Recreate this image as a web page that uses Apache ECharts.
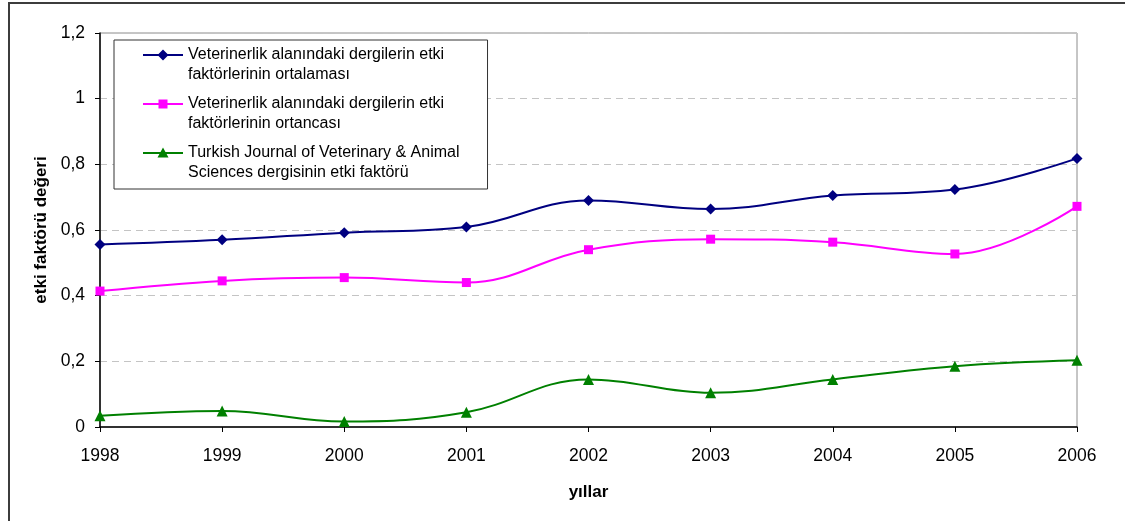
<!DOCTYPE html>
<html>
<head>
<meta charset="utf-8">
<script src="https://cdn.jsdelivr.net/npm/echarts@6/dist/echarts.min.js"></script>
<style>
  html, body { margin: 0; padding: 0; background: #ffffff; }
  #chart { width: 1125px; height: 521px; }
</style>
</head>
<body>
<div id="chart"></div>
<script>
// Yearly impact factor figures
const years = ['1998', '1999', '2000', '2001', '2002', '2003', '2004', '2005', '2006'];
const meanValues   = [0.556, 0.570, 0.592, 0.609, 0.690, 0.664, 0.705, 0.723, 0.818];
const medianValues = [0.414, 0.445, 0.455, 0.440, 0.540, 0.572, 0.563, 0.527, 0.672];
const journalValues = [0.034, 0.049, 0.017, 0.045, 0.145, 0.104, 0.145, 0.185, 0.203];
const yTickLabels = ['0', '0,2', '0,4', '0,6', '0,8', '1', '1,2'];

const seriesNames = [
  'Veterinerlik alanındaki dergilerin etki\nfaktörlerinin ortalaması',
  'Veterinerlik alanındaki dergilerin etki\nfaktörlerinin ortancası',
  'Turkish Journal of Veterinary & Animal\nSciences dergisinin etki faktörü'
];

const FONT = 'Arial, "Liberation Sans", sans-serif';

// Legend keys: a 40x40 box holding a short line with the series marker,
// drawn at the height of the first text line. The corner dots fix the box size.
const KEY_FRAME = 'M0 0 L0.01 0 L0 0.01 Z M40 40 L39.99 40 L40 39.99 Z ';
const KEY_LINE = 'M0 9 L40 9 L40 11 L0 11 Z ';
const legendIcons = [
  'path://' + KEY_FRAME + KEY_LINE + 'M20 4.5 L25.5 10 L20 15.5 L14.5 10 Z',
  'path://' + KEY_FRAME + KEY_LINE + 'M15.5 5.5 L24.5 5.5 L24.5 14.5 L15.5 14.5 Z',
  'path://' + KEY_FRAME + KEY_LINE + 'M20 4.5 L25.5 14.5 L14.5 14.5 Z'
];

const chart = echarts.init(document.getElementById('chart'), null, { renderer: 'canvas' });

function lineSeries(name, data, color, symbol, size) {
  return {
    name: name,
    type: 'line',
    data: data,
    smooth: 0.4,
    symbol: symbol,
    symbolSize: size,
    showAllSymbol: true,
    lineStyle: { color: color, width: 2 },
    itemStyle: { color: color, borderWidth: 0 },
    emphasis: { disabled: true },
    animation: false
  };
}

chart.setOption({
  animation: false,
  backgroundColor: '#ffffff',
  textStyle: { fontFamily: FONT },
  graphic: [{
    type: 'rect',
    shape: { x: 9, y: 3, width: 1300, height: 700 },
    style: { fill: 'none', stroke: '#3c3c3c', lineWidth: 2 },
    silent: true,
    z: -10
  }],
  grid: {
    left: 100, right: 48, top: 33, bottom: 94,
    show: true, borderColor: '#8c8c8c', borderWidth: 1,
    backgroundColor: 'transparent'
  },
  legend: {
    orient: 'vertical',
    left: 114, top: 40,
    padding: [5, 28, 6, 29],
    itemGap: 9,
    itemWidth: 40,
    itemHeight: 40,
    backgroundColor: '#ffffff',
    borderColor: '#333333',
    borderWidth: 1,
    selectedMode: false,
    textStyle: {
      fontFamily: FONT, fontSize: 16, color: '#000000', lineHeight: 20
    },
    data: seriesNames.map(function (n, i) { return { name: n, icon: legendIcons[i] }; })
  },
  xAxis: {
    type: 'category',
    data: years,
    boundaryGap: false,
    name: 'yıllar',
    nameLocation: 'middle',
    nameGap: 57,
    nameTextStyle: { fontFamily: FONT, fontSize: 17, fontWeight: 'bold', color: '#000' },
    axisLine: { lineStyle: { color: '#000', width: 1.5 } },
    axisTick: { show: true, alignWithLabel: true, length: 5, lineStyle: { color: '#000' } },
    axisLabel: { fontFamily: FONT, fontSize: 17.5, color: '#000', margin: 20 },
    splitLine: { show: false }
  },
  yAxis: {
    type: 'value',
    min: 0, max: 1.2, interval: 0.2,
    name: 'etki faktörü değeri',
    nameLocation: 'middle',
    nameGap: 37,
    nameTextStyle: { fontFamily: FONT, fontSize: 17, fontWeight: 'bold', color: '#000' },
    axisLine: { show: true, lineStyle: { color: '#000', width: 1.5 } },
    axisTick: { show: true, length: 5, lineStyle: { color: '#000' } },
    axisLabel: {
      fontFamily: FONT, fontSize: 17.5, color: '#000', margin: 15,
      formatter: function (v) { return yTickLabels[Math.round(v / 0.2)]; }
    },
    splitLine: { show: true, lineStyle: { color: '#c4c4c4', type: [7, 5], width: 1 } }
  },
  series: [
    lineSeries(seriesNames[0], meanValues, '#000080', 'diamond', 11),
    lineSeries(seriesNames[1], medianValues, '#ff00ff', 'rect', 9),
    lineSeries(seriesNames[2], journalValues, '#008000', 'triangle', 11)
  ]
});
</script>
</body>
</html>
